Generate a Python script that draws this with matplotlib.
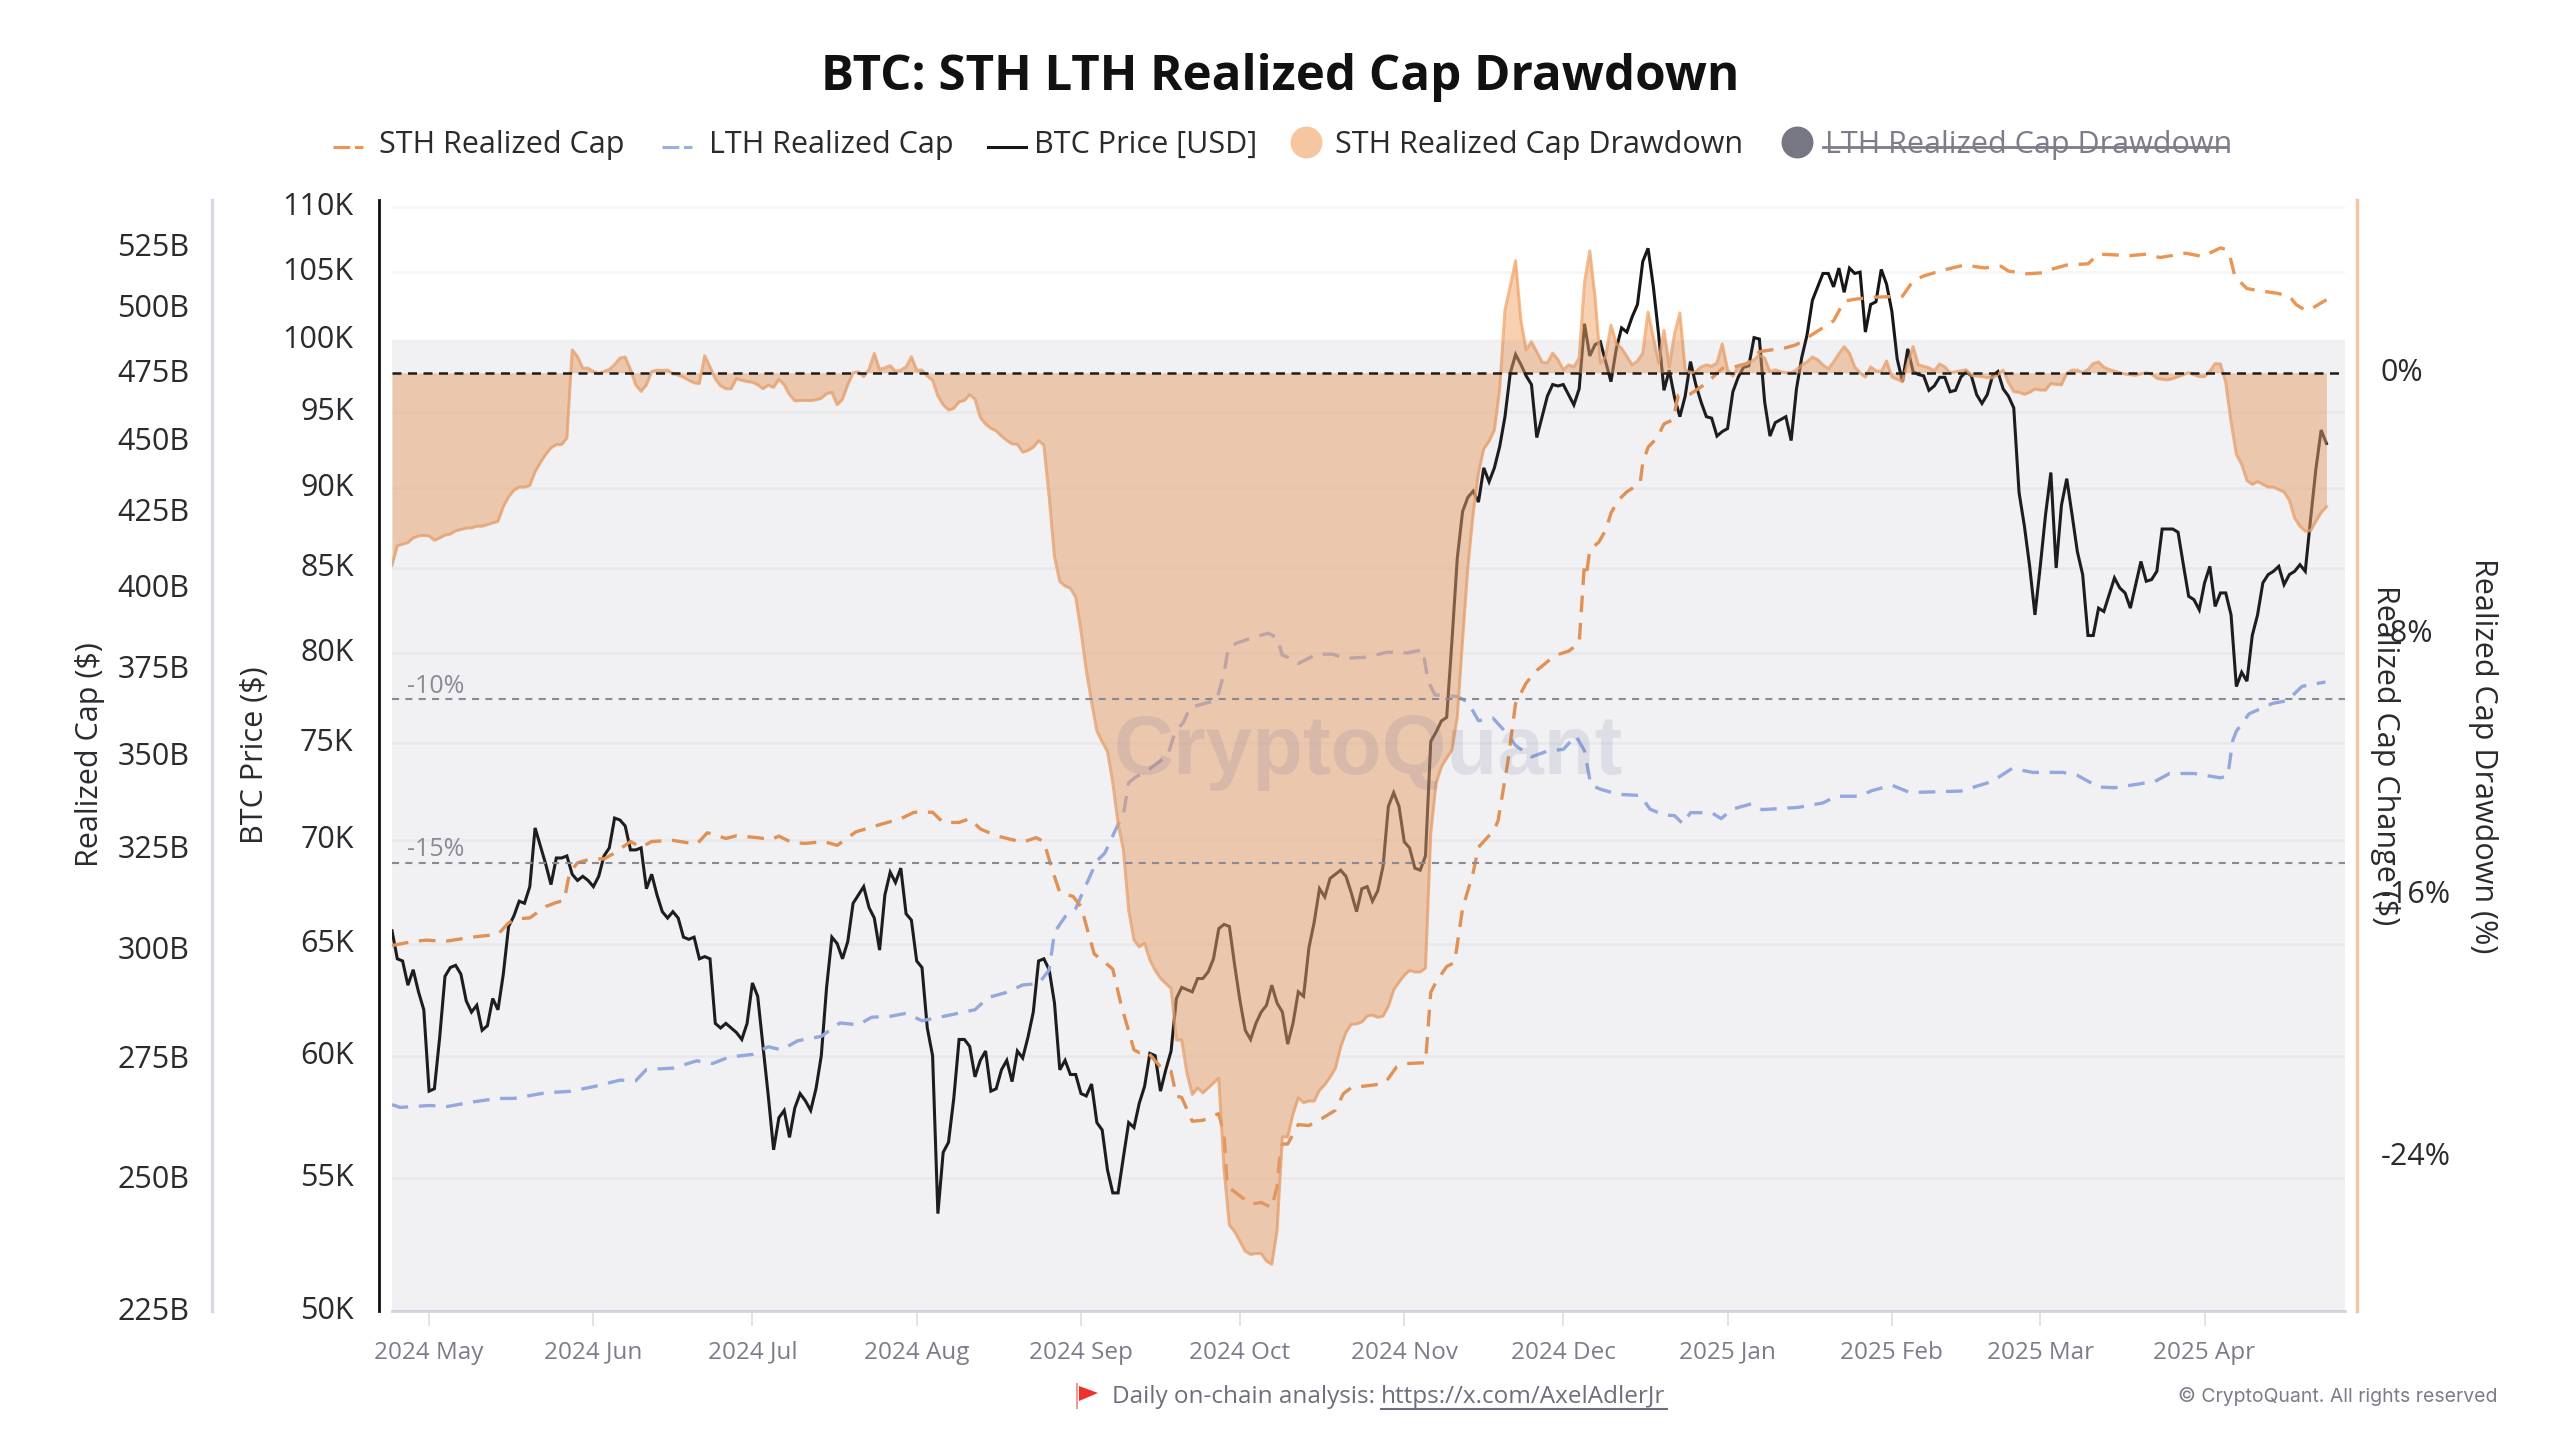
"""BTC: STH LTH Realized Cap Drawdown (CryptoQuant style chart)."""
import matplotlib

matplotlib.use("Agg")
import matplotlib.pyplot as plt
import pandas as pd
from matplotlib.lines import Line2D
from matplotlib.patches import Polygon
from matplotlib.ticker import NullLocator
from matplotlib.transforms import ScaledTranslation

plt.rcParams["font.family"] = ["Open Sans", "DejaVu Sans"]

START = pd.Timestamp("2024-04-24")

# daily BTC close, thousand USD
price_k = [
    65.6, 64.3, 64.2, 63.1, 63.8, 62.8, 62.0, 58.5, 58.6, 60.8,
    63.5, 63.9, 64.0, 63.6, 62.4, 61.9, 62.2, 61.1, 61.3, 62.5,
    62.0, 63.6, 65.8, 66.3, 67.0, 66.9, 67.7, 70.6, 69.7, 68.8,
    67.8, 69.1, 69.1, 69.2, 68.3, 68.0, 68.2, 68.0, 67.7, 68.2,
    69.2, 69.6, 71.1, 71.0, 70.7, 69.5, 69.5, 69.6, 67.6, 68.3,
    67.3, 66.5, 66.2, 66.5, 66.2, 65.3, 65.2, 65.3, 64.3, 64.4,
    64.3, 61.4, 61.2, 61.4, 61.2, 61.0, 60.7, 61.4, 63.2, 62.6,
    60.4, 58.3, 56.1, 57.4, 57.7, 56.6, 57.8, 58.4, 58.1, 57.7,
    58.6, 60.0, 63.0, 65.3, 65.0, 64.3, 65.1, 66.9, 67.3, 67.7,
    66.7, 66.2, 64.7, 67.3, 68.4, 67.9, 68.6, 66.4, 66.1, 64.2,
    63.9, 61.2, 60.0, 53.6, 56.0, 56.4, 58.2, 60.7, 60.7, 60.4,
    59.1, 59.8, 60.2, 58.5, 58.6, 59.4, 59.8, 58.9, 60.2, 59.9,
    60.8, 61.9, 64.2, 64.3, 63.8, 62.3, 59.4, 59.8, 59.2, 59.2,
    58.4, 58.3, 58.8, 57.2, 56.9, 55.3, 54.4, 54.4, 55.8, 57.2,
    57.0, 58.0, 58.7, 60.1, 60.0, 58.5, 59.4, 60.2, 62.5, 63.0,
    62.9, 62.8, 63.4, 63.4, 63.7, 64.3, 65.7, 65.9, 65.8, 64.0,
    62.4, 61.1, 60.7, 61.4, 61.9, 62.2, 63.1, 62.3, 61.9, 60.5,
    61.4, 62.8, 62.6, 64.8, 66.0, 67.6, 67.2, 68.1, 68.3, 68.5,
    68.2, 67.4, 66.5, 67.6, 67.7, 67.0, 67.5, 68.7, 71.7, 72.4,
    71.7, 69.9, 69.6, 68.6, 68.5, 69.2, 75.1, 75.6, 76.2, 76.4,
    80.7, 85.6, 88.5, 89.4, 89.8, 89.1, 91.3, 90.4, 91.3, 92.7,
    94.7, 97.7, 99.0, 98.3, 97.5, 96.9, 93.3, 94.7, 96.1, 96.9,
    96.8, 96.9, 96.2, 95.5, 96.6, 101.2, 98.9, 99.7, 99.9, 98.5,
    97.1, 99.4, 100.9, 100.6, 101.7, 102.6, 105.8, 106.8, 103.9, 100.4,
    96.5, 97.9, 96.0, 94.7, 96.1, 98.5, 96.9, 95.7, 94.7, 94.6,
    93.4, 93.7, 93.9, 96.4, 97.4, 98.1, 98.2, 100.2, 100.1, 95.7,
    93.4, 94.3, 94.5, 94.7, 93.1, 96.6, 98.8, 100.4, 102.9, 103.9,
    104.9, 104.9, 103.9, 105.3, 103.5, 105.3, 104.9, 105.0, 100.6, 102.6,
    102.8, 105.2, 104.1, 102.1, 98.7, 97.1, 99.4, 97.8, 97.6, 97.5,
    96.5, 96.8, 97.4, 97.4, 96.4, 96.5, 97.4, 97.8, 97.5, 96.2,
    95.6, 96.2, 97.5, 97.8, 96.6, 96.1, 95.3, 89.7, 87.6, 85.1,
    82.2, 85.1, 88.3, 91.0, 85.0, 88.9, 90.6, 88.3, 86.0, 84.6,
    81.0, 81.0, 82.6, 82.4, 83.4, 84.4, 83.8, 83.5, 82.6, 84.0,
    85.4, 84.2, 84.3, 84.8, 87.4, 87.4, 87.4, 87.2, 85.2, 83.3,
    83.1, 82.5, 84.1, 85.1, 82.7, 83.5, 83.5, 82.2, 78.1, 78.9,
    78.4, 81.0, 82.2, 84.1, 84.6, 84.8, 85.1, 84.0, 84.6, 84.8,
    85.2, 84.8, 88.0, 91.2, 93.8, 92.9,
]

# daily STH realized cap drawdown, %
drawdown_pct = [
    -5.9, -5.3, -5.25, -5.2, -5.06, -5.0, -4.98, -5.0, -5.13, -5.06,
    -4.97, -4.94, -4.84, -4.8, -4.76, -4.75, -4.7, -4.7, -4.65, -4.6,
    -4.55, -4.1, -3.8, -3.6, -3.5, -3.5, -3.45, -3.03, -2.75, -2.5,
    -2.3, -2.2, -2.2, -2.0, 0.7, 0.5, 0.14, 0.14, 0.04, -0.03,
    0.04, 0.1, 0.25, 0.45, 0.48, 0.1, -0.37, -0.57, -0.37, 0.04,
    0.08, 0.07, 0.08, -0.03, -0.07, -0.14, -0.23, -0.31, -0.33, 0.52,
    0.18, -0.19, -0.4, -0.49, -0.49, -0.18, -0.23, -0.27, -0.29, -0.37,
    -0.49, -0.38, -0.45, -0.2, -0.37, -0.67, -0.86, -0.85, -0.85, -0.85,
    -0.83, -0.78, -0.64, -0.6, -0.98, -0.81, -0.37, 0.0, 0.03, -0.12,
    0.1, 0.59, 0.1, 0.15, 0.22, 0.04, 0.08, 0.18, 0.49, 0.08,
    0.08, -0.1, -0.23, -0.71, -0.98, -1.14, -1.09, -0.89, -0.85, -0.67,
    -0.81, -1.37, -1.57, -1.7, -1.78, -1.94, -2.07, -2.18, -2.19, -2.43,
    -2.38, -2.28, -2.08, -2.22, -3.8, -5.64, -6.39, -6.53, -6.6, -6.87,
    -7.9, -9.12, -10.08, -10.97, -11.3, -11.6, -12.55, -13.8, -14.6, -16.45,
    -17.37, -17.58, -17.47, -17.98, -18.3, -18.54, -18.7, -18.85, -20.43, -20.43,
    -21.45, -22.1, -21.9, -22.05, -21.9, -21.75, -21.6, -24.4, -26.1, -26.3,
    -26.6, -26.9, -27.0, -26.97, -26.97, -27.2, -27.3, -26.26, -23.4, -23.4,
    -22.7, -22.2, -22.35, -22.3, -22.3, -21.97, -21.8, -21.57, -21.3, -20.65,
    -20.2, -19.95, -19.94, -19.88, -19.7, -19.67, -19.74, -19.7, -19.4, -18.9,
    -18.66, -18.45, -18.3, -18.35, -18.35, -18.23, -14.1, -12.57, -12.07, -11.8,
    -11.55, -10.54, -8.18, -5.95, -4.3, -3.07, -2.33, -2.1, -1.75, -0.5,
    1.92, 2.65, 3.43, 1.6, 0.7, 0.95, 0.64, 0.33, 0.3, 0.6,
    0.4, 0.09, 0.24, 0.18, 0.45, 2.75, 3.73, 2.3, 0.3, 0.5,
    1.46, 0.9, 0.75, 0.5, 0.24, 0.36, 0.6, 1.86, 1.07, 0.3,
    1.3, 0.18, 1.2, 1.83, 0.09, 0.0, 0.03, 0.18, 0.24, 0.2,
    0.3, 0.88, 0.09, -0.1, 0.18, 0.24, 0.3, 0.4, 0.55, 0.45,
    0.03, 0.09, 0.03, 0.0, 0.0, 0.09, 0.24, 0.33, 0.48, 0.4,
    0.24, 0.12, 0.33, 0.58, 0.8, 0.6, 0.18, 0.0, -0.13, 0.18,
    0.06, 0.03, 0.36, -0.13, -0.2, -0.28, 0.3, 0.8, 0.24, 0.2,
    0.15, 0.06, 0.27, 0.18, 0.0, 0.03, 0.06, 0.09, -0.08, -0.1,
    -0.12, -0.15, -0.16, -0.05, 0.08, -0.3, -0.58, -0.6, -0.66, -0.6,
    -0.5, -0.53, -0.53, -0.33, -0.36, -0.37, -0.02, 0.08, 0.08, 0.0,
    0.1, 0.28, 0.33, 0.17, 0.1, 0.05, 0.0, -0.04, -0.06, -0.08,
    -0.03, 0.0, -0.04, -0.17, -0.2, -0.22, -0.18, -0.12, -0.06, 0.0,
    -0.06, -0.12, -0.12, 0.05, 0.28, 0.27, -0.3, -1.5, -2.5, -2.8,
    -3.3, -3.42, -3.33, -3.42, -3.5, -3.5, -3.58, -3.65, -3.9, -4.45,
    -4.7, -4.85, -4.84, -4.55, -4.28, -4.1,
]

# STH realized cap: days since START, billion USD
sth_days = [
    0, 4, 6.5, 10, 15, 20, 22, 24, 26, 29, 31, 32.5, 33.5, 35, 37.5, 40, 42, 45, 47, 49,
    53, 57.5, 59.5, 63, 65, 69, 71.5, 73, 75.5, 78, 81.5, 84, 87.5, 91, 96, 98.5, 102, 104,
    107, 109, 111, 114, 119, 121.5, 123, 124.5, 126, 128.5, 130, 132.5, 134.5, 136, 137.5,
    139.5, 140, 141, 142.5, 145, 147, 148, 149, 151, 153, 156, 157, 157.6, 159.5, 162, 164,
    166, 167, 167.6, 168, 169, 171, 173, 175.5, 178, 179.5, 181, 185.5, 187.5, 189.5, 191.5,
    195, 196, 197, 199, 200.5, 202, 204, 205, 206.5, 208, 208.7, 210.5, 212, 214, 216, 218.5,
    220, 222, 224, 225, 225.5, 226, 227.7, 229, 230, 231.3, 233, 235.5, 236, 237, 238.7, 240,
    241.7, 242.7, 245, 248, 251, 253, 255.7, 258, 263, 265, 269, 272, 274, 276, 279.5, 285,
    287, 289, 292.5, 296.7, 300.5, 303.6, 305, 308.5, 311.5, 313, 316, 320, 322, 328, 331,
    333.6, 338.5, 341.6, 345, 346, 346.8, 347.7, 349, 350, 352, 355.7, 358, 359.3, 361, 362, 365,
]
sth_cap_b = [
    301, 302, 302.3, 302, 303, 303.7, 306.5, 307.5, 307.7, 310.5, 311.5, 312, 319, 321.5, 322.5,
    322.5, 324, 327, 325.5, 327, 327.3, 326.3, 329.3, 327.8, 328.5, 328, 327.5, 328.4, 326.7,
    326.5, 327, 326, 329.5, 331, 333, 334.7, 334.7, 332, 332, 333, 330.3, 328.5, 326.8, 328, 327,
    320, 314, 313, 310.5, 299, 297, 295.4, 287.5, 279, 277, 276.4, 276.6, 273.3, 272.3, 267, 266.7,
    261.7, 261.9, 263.3, 258.8, 248.5, 247, 245, 245.3, 244.3, 248.5, 255.4, 257, 257, 261, 260.8,
    262.3, 264, 267.5, 268.8, 269.4, 270, 273.2, 274, 274.2, 290, 292.4, 296, 297, 310, 319, 325.5,
    327.8, 330, 332.5, 348, 365, 371, 374.7, 378, 379.5, 380.5, 383, 408, 406, 412.5, 415, 419,
    424.7, 429, 432, 435, 442, 447.6, 451, 456, 457.5, 466.5, 467, 471, 476.6, 477, 478.5, 483,
    484.5, 485.7, 491, 495, 502.8, 503.6, 504.4, 504.8, 511, 513, 515.3, 517.5, 516.3, 517, 515,
    513.9, 514.3, 515.7, 517.5, 518, 522, 521.4, 522, 520.6, 522.4, 521, 524.6, 524, 521, 513, 510,
    507.9, 507.1, 506, 504.8, 501.4, 499.2, 499.6, 503.4,
]

# LTH realized cap: days since START, billion USD
lth_days = [
    0, 1.5, 7, 10.5, 15.5, 20, 23, 29, 33.5, 38, 43, 46, 48, 53, 57.5, 60.5, 63.5, 68, 71, 73.5,
    76.5, 81, 84.5, 88, 90.5, 94, 97, 100, 104.5, 110, 112.5, 116, 119, 122, 124, 125, 127, 129,
    131, 133, 134.5, 136.4, 137, 138, 139, 140.5, 142, 146.4, 147.7, 149.3, 150.6, 155.6, 157,
    157.8, 159.4, 163, 165.3, 167, 168, 169, 171, 174.5, 177.4, 180, 184, 187.7, 191.6, 194.5,
    195.5, 196.8, 201, 203, 205, 207.7, 209.4, 212, 215, 218, 221, 223.4, 225, 226.2, 228.2,
    231.5, 235.5, 237.4, 240, 242, 243.6, 245, 249, 250.8, 252.8, 256.6, 258.5, 265.3, 270,
    272.5, 276.8, 279.2, 283, 286.4, 296, 301.9, 305.7, 309.6, 315.3, 318, 322, 325, 332.6,
    335.4, 340, 345, 346.4, 347.3, 348, 350.4, 354.8, 357.6, 360.4, 364.8,
]
lth_cap_b = [
    265.2, 264.6, 265, 264.8, 265.8, 266.5, 266.5, 267.7, 268, 269, 270.4, 270.3, 272.7, 273,
    274.6, 274, 275.4, 276, 277.7, 277, 279, 280, 283, 282.6, 284.3, 284.5, 285.2, 283.5, 284.6,
    286, 288.8, 290, 291.7, 292, 295.2, 304.2, 308, 310, 316, 322, 324, 329.7, 331.4, 334, 342.7,
    344.4, 345.4, 350.3, 356.6, 359.5, 363.8, 366, 373.9, 381.5, 383, 384.9, 386, 384.6, 379.3,
    378.7, 376.8, 379.6, 379.6, 378.4, 378.7, 380.2, 380, 380.9, 371.5, 367.5, 367, 365.4, 360,
    360.8, 358, 353, 349.8, 351.4, 351.9, 355.7, 351.5, 342, 340.8, 339.5, 339.2, 335.5, 334,
    333.8, 331.6, 334.6, 334.6, 333, 335.5, 337, 335.4, 336, 337.2, 339, 339, 340.5, 342, 340,
    340.4, 343, 346.6, 345.5, 345.5, 344.7, 341.5, 341.3, 343, 345.2, 345.2, 344, 344.6, 354.3,
    357, 362, 365, 365.8, 370, 371.3,
]

# axis ticks
month_ticks = ["2024-05-01", "2024-06-01", "2024-07-01", "2024-08-01", "2024-09-01", "2024-10-01",
               "2024-11-01", "2024-12-01", "2025-01-01", "2025-02-01", "2025-03-01", "2025-04-01"]
month_labels = ["2024 May", "2024 Jun", "2024 Jul", "2024 Aug", "2024 Sep", "2024 Oct",
                "2024 Nov", "2024 Dec", "2025 Jan", "2025 Feb", "2025 Mar", "2025 Apr"]
price_ticks = [50, 55, 60, 65, 70, 75, 80, 85, 90, 95, 100, 105, 110]
cap_ticks = [225, 250, 275, 300, 325, 350, 375, 400, 425, 450, 475, 500, 525]
dd_ticks = [0, -8, -16, -24]

W, H = 2560, 1440
INK = "#2b2b2f"
MUTED = "#7c7c8a"
STH_COLOR = "#EC9552"
LTH_COLOR = "#98AFE8"
FILL_COLOR = "#F2A469"
LABEL_SIZE = 22


def fx(px):
    return px / W


def fy(px):
    return 1 - px / H


def shift_labels(axis, px):
    # highcharts puts y labels a little above the grid line
    off = ScaledTranslation(0, px / 100, fig.dpi_scale_trans)
    for lab in axis.get_majorticklabels():
        lab.set_transform(lab.get_transform() + off)


fig = plt.figure(figsize=(W / 100, H / 100), dpi=100)
rect = [fx(392), fy(1311), fx(2345 - 392), (1311 - 200) / H]

days = pd.date_range(START, periods=len(price_k), freq="D")
sth_x = START + pd.to_timedelta(sth_days, unit="D")
lth_x = START + pd.to_timedelta(lth_days, unit="D")
dd_x = pd.date_range(START, periods=len(drawdown_pct), freq="D")

ax = fig.add_axes(rect, zorder=1)
ax_cap = ax.twinx()
ax_dd = ax.twinx()
ax_cap.set_zorder(2)
ax_dd.set_zorder(3)
for a in (ax, ax_cap, ax_dd):
    a.patch.set_visible(False)
    for s in a.spines.values():
        s.set_visible(False)

# price axis, carries the grid and the month ticks
ax.plot(days, [v * 1000 for v in price_k], color="#161616", lw=2.2, solid_joinstyle="miter")
ax.set_yscale("log")
ax.set_ylim(50000, 110550)
ax.set_yticks([v * 1000 for v in price_ticks], [f"{v}K" for v in price_ticks])
ax.yaxis.set_minor_locator(NullLocator())
ax.yaxis.grid(True, color="#F5F5F6", lw=1.8)
ax.set_axisbelow(True)
ax.set_xlim(START, START + pd.Timedelta(days=368.5))
ax.set_xticks(pd.to_datetime(month_ticks), month_labels)
ax.tick_params(axis="x", length=11, width=1.2, color="#DDDDE4", labelcolor=MUTED, labelsize=17.5, pad=10.5)
ax.tick_params(axis="y", length=0, labelcolor=INK, labelsize=LABEL_SIZE, pad=18)
ax.spines["left"].set_visible(True)
ax.spines["left"].set_position(("outward", 9.6))
ax.spines["left"].set_color("#111111")
ax.spines["left"].set_linewidth(2)
ax.spines["bottom"].set_visible(True)
ax.spines["bottom"].set_color("#D4D4E0")
ax.spines["bottom"].set_linewidth(2)
shift_labels(ax.yaxis, 3.5)

# realized cap axis
ax_cap.plot(lth_x, [v * 1e9 for v in lth_cap_b], color=LTH_COLOR, lw=2.4, dashes=(5, 3.2))
ax_cap.plot(sth_x, [v * 1e9 for v in sth_cap_b], color=STH_COLOR, lw=2.4, dashes=(5, 3.2))
ax_cap.set_yscale("log")
ax_cap.set_ylim(225e9, 545e9)
ax_cap.yaxis.tick_left()
ax_cap.set_yticks([v * 1e9 for v in cap_ticks], [f"{v}B" for v in cap_ticks])
ax_cap.yaxis.set_minor_locator(NullLocator())
ax_cap.tick_params(axis="y", length=0, labelcolor=INK, labelsize=LABEL_SIZE, pad=16.5)
ax_cap.spines["left"].set_visible(True)
ax_cap.spines["left"].set_position(("outward", 129.4))
ax_cap.spines["left"].set_color("#D8D8E6")
ax_cap.spines["left"].set_linewidth(2.4)
shift_labels(ax_cap.yaxis, 2.5)

# drawdown axis: fill sits over the lines, grey band over the fill
ax_dd.fill_between(dd_x, drawdown_pct, 0, color=FILL_COLOR, alpha=0.5, lw=0, zorder=1)
ax_dd.plot(dd_x, drawdown_pct, color=FILL_COLOR, alpha=0.75, lw=2.2, zorder=1.5)
ax_dd.axhspan(-28.73, 0.98, color="#6A6A80", alpha=0.09, lw=0, zorder=2)
ax_dd.axhline(0, color="#1c1c1c", lw=1.8, dashes=(3.6, 2.6), zorder=4)
ax_dd.axhline(-10, color="#8A8A96", lw=1.5, dashes=(3.4, 3.0), zorder=4)
ax_dd.axhline(-15, color="#8A8A96", lw=1.5, dashes=(3.4, 3.0), zorder=4)
ax_dd.set_ylim(-28.73, 5.29)
ax_dd.set_yticks(dd_ticks, [f"{v}%" for v in dd_ticks])
ax_dd.yaxis.set_minor_locator(NullLocator())
ax_dd.tick_params(axis="y", length=0, labelcolor=INK, labelsize=LABEL_SIZE, pad=17)
ax_dd.spines["right"].set_visible(True)
ax_dd.spines["right"].set_position(("outward", 8.4))
ax_dd.spines["right"].set_color("#F5C4A0")
ax_dd.spines["right"].set_linewidth(2.4)
shift_labels(ax_dd.yaxis, 3.5)

band_labels = [(-10, "-10%"), (-15, "-15%")]
for level, text in band_labels:
    ax_dd.annotate(text, (0, level), xycoords=("axes fraction", "data"), xytext=(11, 0.5),
                   textcoords="offset points", fontsize=18, color="#8A8A96", va="bottom", zorder=5)

ax_dd.text(0.5, 0.503, "CryptoQuant", transform=ax.transAxes, ha="center", va="center",
           fontsize=60, fontweight="bold", family=["Liberation Sans"], color="#5E5E88", alpha=0.13, zorder=6)

# title and axis titles
fig.text(0.5, fy(77), "BTC: STH LTH Realized Cap Drawdown", ha="center", va="center",
         fontsize=35.5, fontweight="bold", color="#111111")
fig.text(fx(90), fy(755), "Realized Cap ($)", rotation=90, ha="center", va="center", fontsize=LABEL_SIZE, color=INK)
fig.text(fx(255), fy(755), "BTC Price ($)", rotation=90, ha="center", va="center", fontsize=LABEL_SIZE, color=INK)
fig.text(fx(2385), fy(755), "Realized Cap Change ($)", rotation=-90, ha="center", va="center",
         fontsize=LABEL_SIZE, color=INK)
fig.text(fx(2483), fy(756), "Realized Cap Drawdown (%)", rotation=-90, ha="center", va="center",
         fontsize=LABEL_SIZE, color=INK)

# legend
LEG_Y = 147
for x0, x1, color, dashes in [(333, 363, STH_COLOR, (5.5, 1.5)), (662, 692, LTH_COLOR, (5.5, 1.5)),
                              (988, 1026, "#161616", None)]:
    line = Line2D([fx(x0), fx(x1)], [fy(LEG_Y), fy(LEG_Y)], transform=fig.transFigure, color=color, lw=2.2)
    if dashes:
        line.set_dashes(dashes)
    fig.add_artist(line)
for x, text, color in [(379, "STH Realized Cap", INK), (709, "LTH Realized Cap", INK),
                       (1034, "BTC Price [USD]", INK), (1335, "STH Realized Cap Drawdown", INK),
                       (1825, "LTH Realized Cap Drawdown", MUTED)]:
    fig.text(fx(x), fy(LEG_Y - 2), text, ha="left", va="center", fontsize=LABEL_SIZE, color=color)
fig.add_artist(Line2D([fx(1306)], [fy(LEG_Y - 5)], transform=fig.transFigure, marker="o", ms=23,
                      color="#F5C6A0", mew=0))
fig.add_artist(Line2D([fx(1797)], [fy(LEG_Y - 5)], transform=fig.transFigure, marker="o", ms=23,
                      color="#777784", mew=0))
fig.add_artist(Line2D([fx(1823), fx(2226)], [fy(LEG_Y), fy(LEG_Y)], transform=fig.transFigure,
                      color=MUTED, lw=2))

# footer
fig.add_artist(Line2D([fx(1077), fx(1077)], [fy(1384), fy(1408)], transform=fig.transFigure,
                      color="#E8A090", lw=1.5))
fig.add_artist(Polygon([(fx(1079), fy(1386)), (fx(1098), fy(1393)), (fx(1079), fy(1401))],
                       transform=fig.transFigure, color="#F0302A", lw=0))
fig.text(fx(1112), fy(1397), "Daily on-chain analysis: ", ha="left", va="center", fontsize=17.5, color="#6E6E7C")
fig.text(fx(1381), fy(1397), "https://x.com/AxelAdlerJr", ha="left", va="center", fontsize=17.5, color="#6E6E7C")
fig.add_artist(Line2D([fx(1381), fx(1667)], [fy(1409), fy(1409)], transform=fig.transFigure,
                      color="#6E6E7C", lw=1.5))
fig.text(fx(2497), fy(1397), "© CryptoQuant. All rights reserved", ha="right", va="center",
         fontsize=14, family=["Inter", "DejaVu Sans"], color=MUTED)

fig.savefig("out.png", dpi=100)
